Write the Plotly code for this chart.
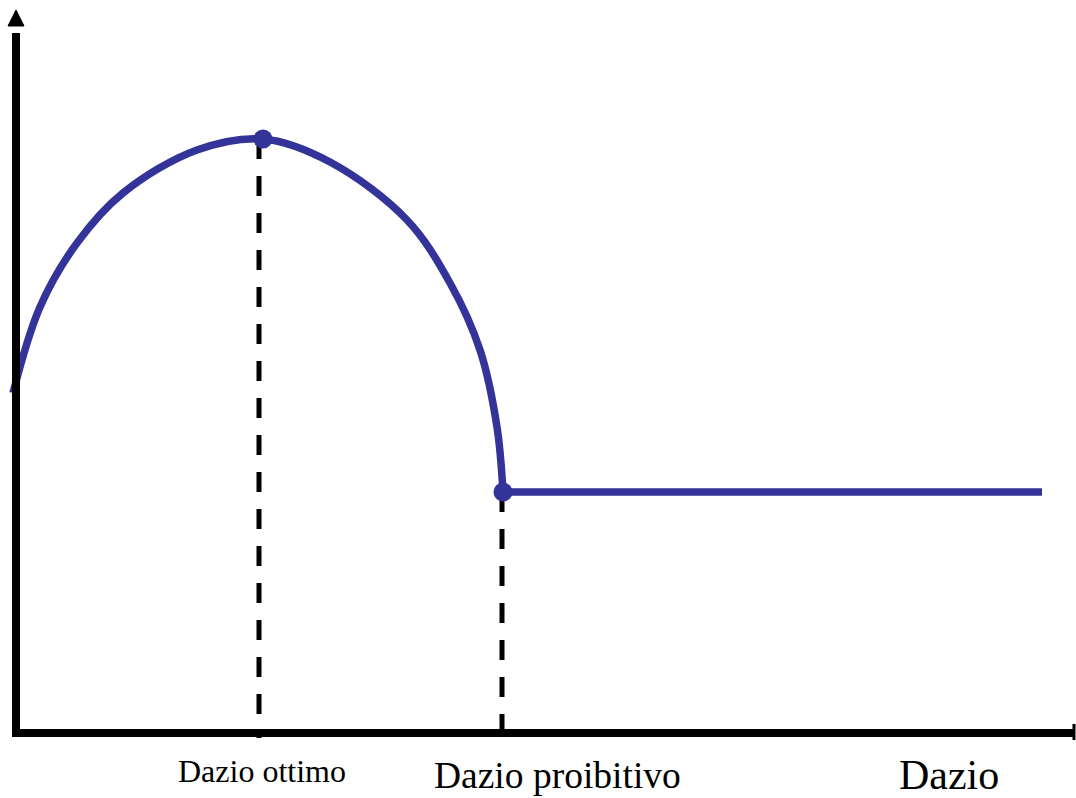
import plotly.graph_objects as go

# Data (arbitrary units: tariff on x, welfare on y)
curve_tariff = [-3, 24, 61, 107, 181, 247, 314, 391, 434, 464, 481, 487]
curve_welfare = [340, 426, 490, 540, 583, 594, 571, 513, 450, 383, 306, 241]
flat_tariff = [487, 1026]
flat_welfare = [241, 241]
key_tariff = [247, 487]
key_welfare = [594, 241]
key_labels = ["Dazio ottimo", "Dazio proibitivo"]
axis_label = "Dazio"

BLUE = "#333399"
FONT = "Liberation Serif"

fig = go.Figure()

# dashed guide lines
guide_offset = [-4, -1]
for xv, yv, off in zip(key_tariff, key_welfare, guide_offset):
    fig.add_trace(go.Scatter(x=[xv + off, xv + off], y=[yv, -5], mode="lines",
                             line=dict(color="black", width=5, dash="20px,17px"),
                             hoverinfo="skip", showlegend=False))

fig.add_trace(go.Scatter(x=curve_tariff, y=curve_welfare, mode="lines",
                         line=dict(color=BLUE, width=7.5, shape="spline", smoothing=1.0),
                         showlegend=False))
fig.add_trace(go.Scatter(x=flat_tariff, y=flat_welfare, mode="lines",
                         line=dict(color=BLUE, width=7.5), showlegend=False))
fig.add_trace(go.Scatter(x=key_tariff, y=key_welfare, mode="markers",
                         marker=dict(color=BLUE, size=19), showlegend=False))

# axes drawn as shapes
shapes = [
    dict(type="line", xref="x", yref="y", x0=0, x1=0, y0=-3, y1=700,
         line=dict(color="black", width=8)),
    dict(type="path", xref="x", yref="y", path="M -8,707 L 8,707 L 0,723 Z",
         fillcolor="black", line=dict(color="black", width=1)),
    dict(type="line", xref="x", yref="y", x0=-4, x1=1059, y0=0, y1=0,
         line=dict(color="black", width=8)),
    dict(type="line", xref="x", yref="y", x0=1058, x1=1058, y0=-7, y1=9,
         line=dict(color="black", width=3)),
]

annotations = [
    dict(x=key_tariff[0] - 1, y=-38, text=key_labels[0], showarrow=False,
         font=dict(family=FONT, size=32, color="black")),
    dict(x=key_tariff[1] + 54, y=-42, text=key_labels[1], showarrow=False,
         font=dict(family=FONT, size=37.5, color="black")),
    dict(x=933, y=-42, text=axis_label, showarrow=False,
         font=dict(family=FONT, size=42, color="black")),
]

fig.update_layout(
    width=1076, height=798,
    margin=dict(l=0, r=0, t=0, b=0),
    paper_bgcolor="white", plot_bgcolor="white",
    xaxis=dict(range=[-16, 1060], visible=False, fixedrange=True),
    yaxis=dict(range=[-65, 733], visible=False, fixedrange=True),
    shapes=shapes, annotations=annotations,
    showlegend=False, hovermode=False,
)

fig.write_html("out.html", config={"displayModeBar": False},
               post_script="document.body.style.margin='0';document.body.style.overflow='hidden';")
